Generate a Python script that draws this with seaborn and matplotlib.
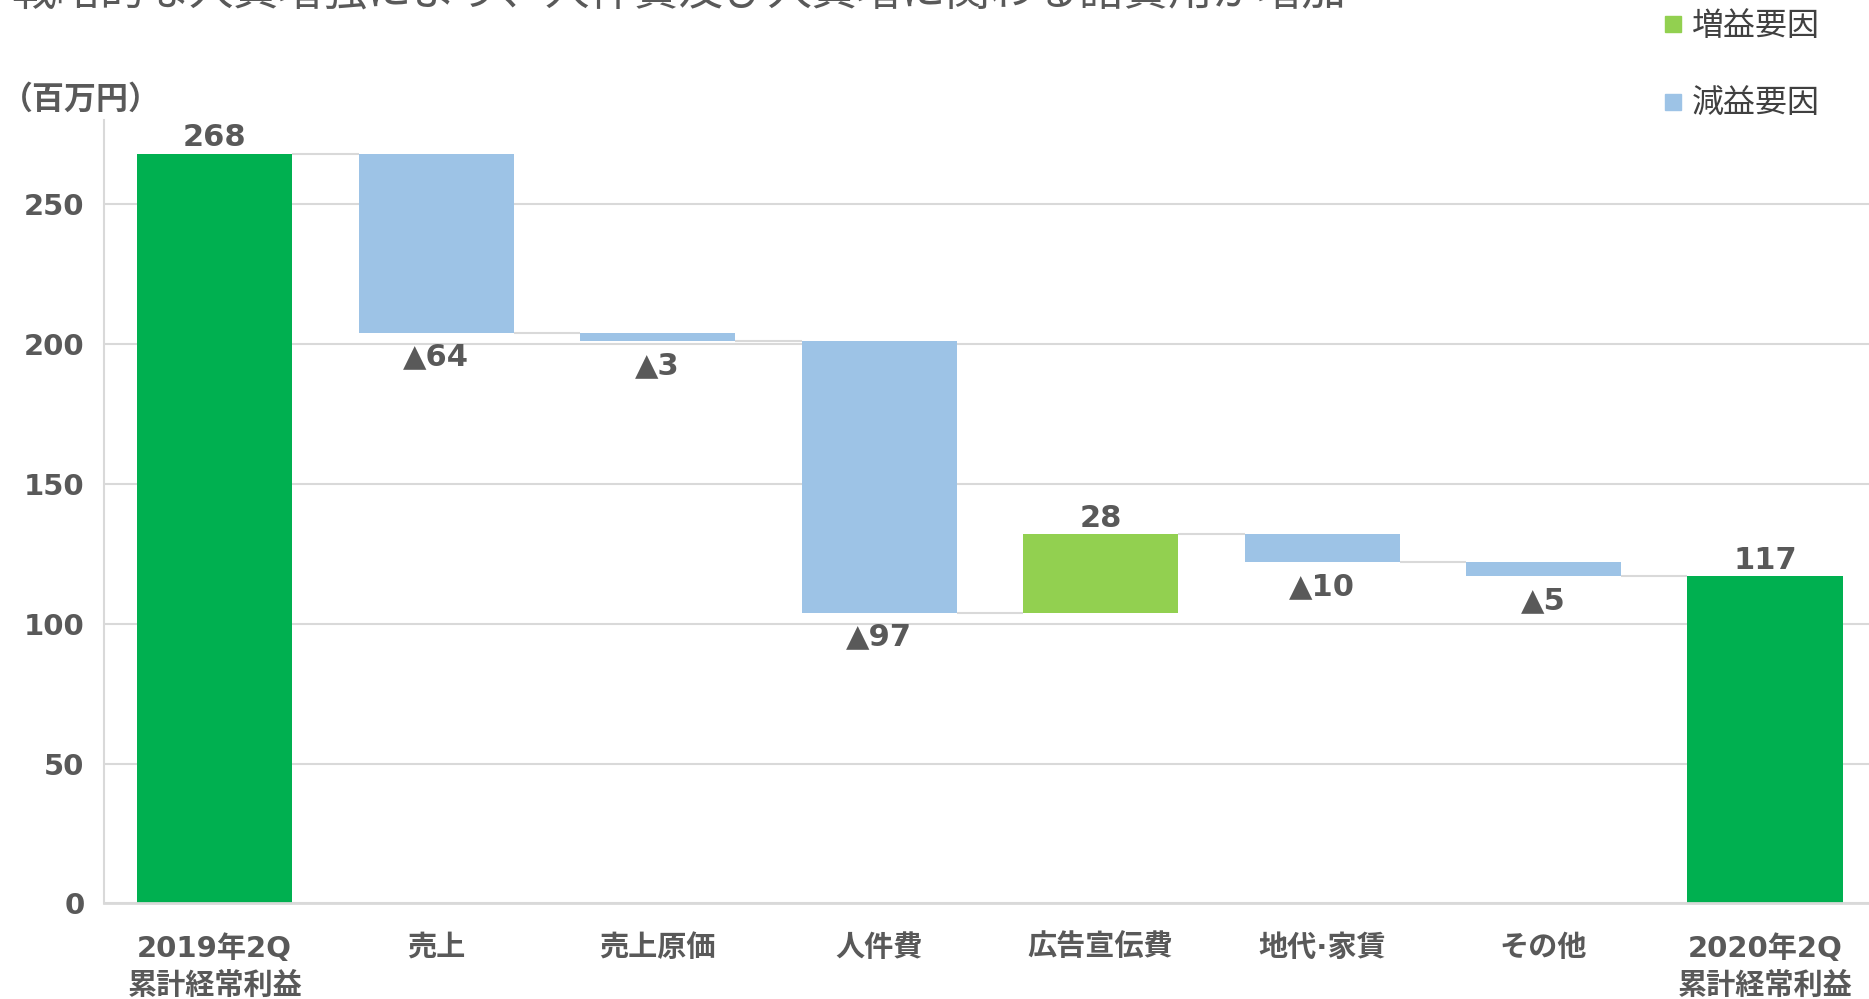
import numpy as np
import pandas as pd
import matplotlib
matplotlib.use('Agg')
import matplotlib.pyplot as plt
import seaborn as sns
from matplotlib.lines import Line2D

# データ（百万円）
categories = ['2019年2Q\n累計経常利益', '売上', '売上原価', '人件費', '広告宣伝費',
              '地代·家賃', 'その他', '2020年2Q\n累計経常利益']
start_value = 268
changes = [-64, -3, -97, 28, -10, -5]
end_value = 117
y_ticks = [0, 50, 100, 150, 200, 250]

title_text = '戦略的な人員増強により、人件費及び人員増に関わる諸費用が増加'
unit_text = '（百万円）'
legend_labels = ['増益要因', '減益要因']

# 色
c_total = '#00B050'
c_up = '#92D050'
c_down = '#9DC3E6'
c_text = '#595959'
c_grid = '#D9D9D9'

sns.set_theme(style='white')
plt.rcParams['font.family'] = ['DejaVu Sans', 'Noto Sans CJK JP']

# ウォーターフォール用の計算
running = start_value + np.cumsum([0] + changes)
prev_lv = running[:-1]
next_lv = running[1:]
bottoms = [0] + list(np.minimum(prev_lv, next_lv)) + [0]
heights = [start_value] + [abs(c) for c in changes] + [end_value]
colors = [c_total] + [c_up if c > 0 else c_down for c in changes] + [c_total]
labels = [str(start_value)] + [str(c) if c > 0 else '▲' + str(-c) for c in changes] + [str(end_value)]
df = pd.DataFrame({'category': categories, 'height': heights, 'bottom': bottoms})

fig = plt.figure(figsize=(18.69, 9.99), dpi=100)
ax = fig.add_axes([0.0556, 0.0956, 0.948, 0.784])

sns.barplot(data=df, x='category', y='height', bottom=df['bottom'].values, width=0.7,
            color=c_down, errorbar=None, linewidth=0, ax=ax)
for patch, col in zip(ax.patches, colors):
    patch.set_facecolor(col)

# つなぎ線
pos = np.arange(len(running))
ax.hlines(running, pos + 0.35, pos + 0.65, color=c_grid, lw=1.5, zorder=1)

# 数値ラベル
for i, (lab, b, h) in enumerate(zip(labels, bottoms, heights)):
    if lab.startswith('▲'):
        ax.annotate(lab, (i, b), xytext=(0, -7), textcoords='offset points',
                    ha='center', va='top', fontsize=22, fontweight='bold', color=c_text)
    else:
        ax.annotate(lab, (i, b + h), xytext=(0, 1), textcoords='offset points',
                    ha='center', va='bottom', fontsize=22, fontweight='bold', color=c_text)

ax.set_xlim(-0.5, 7.5)
ax.set_ylim(0, 280)
ax.set_yticks(y_ticks)
ax.set_xlabel('')
ax.set_ylabel('')
ax.yaxis.grid(True, color=c_grid, lw=1.5)
ax.set_axisbelow(True)
for s in ['top', 'right']:
    ax.spines[s].set_visible(False)
ax.spines['left'].set_color(c_grid)
ax.spines['left'].set_linewidth(1.5)
ax.spines['bottom'].set_color(c_grid)
ax.spines['bottom'].set_linewidth(2)
ax.tick_params(axis='y', length=0, pad=14, labelsize=21, labelcolor=c_text)
ax.tick_params(axis='x', length=0, pad=22, labelsize=21, labelcolor=c_text)
for t in ax.get_yticklabels() + ax.get_xticklabels():
    t.set_fontweight('bold')
for t in ax.get_xticklabels():
    t.set_linespacing(1.4)

# タイトル（上部で切れている）
fig.text(0.006, 1 - 16 / 999, title_text, fontsize=32, color=c_text,
         ha='left', va='bottom', family=['Noto Sans CJK JP', 'DejaVu Sans'])
fig.text(0.0005, 0.9, unit_text, fontsize=23, fontweight='bold', color=c_text,
         ha='left', va='center', family=['Noto Sans CJK JP', 'DejaVu Sans'])

# 凡例
handles = [Line2D([], [], marker='s', linestyle='', markersize=11, color=c_up),
           Line2D([], [], marker='s', linestyle='', markersize=11, color=c_down)]
leg = fig.legend(handles, legend_labels, loc='upper left', bbox_to_anchor=(0.8745, 1.019),
                 frameon=False, handlelength=0.6, handletextpad=0.3, labelspacing=1.45,
                 prop={'family': ['Noto Sans CJK JP', 'DejaVu Sans'], 'size': 23})
for t in leg.get_texts():
    t.set_color('#404040')

fig.savefig('out.png', dpi=100)
